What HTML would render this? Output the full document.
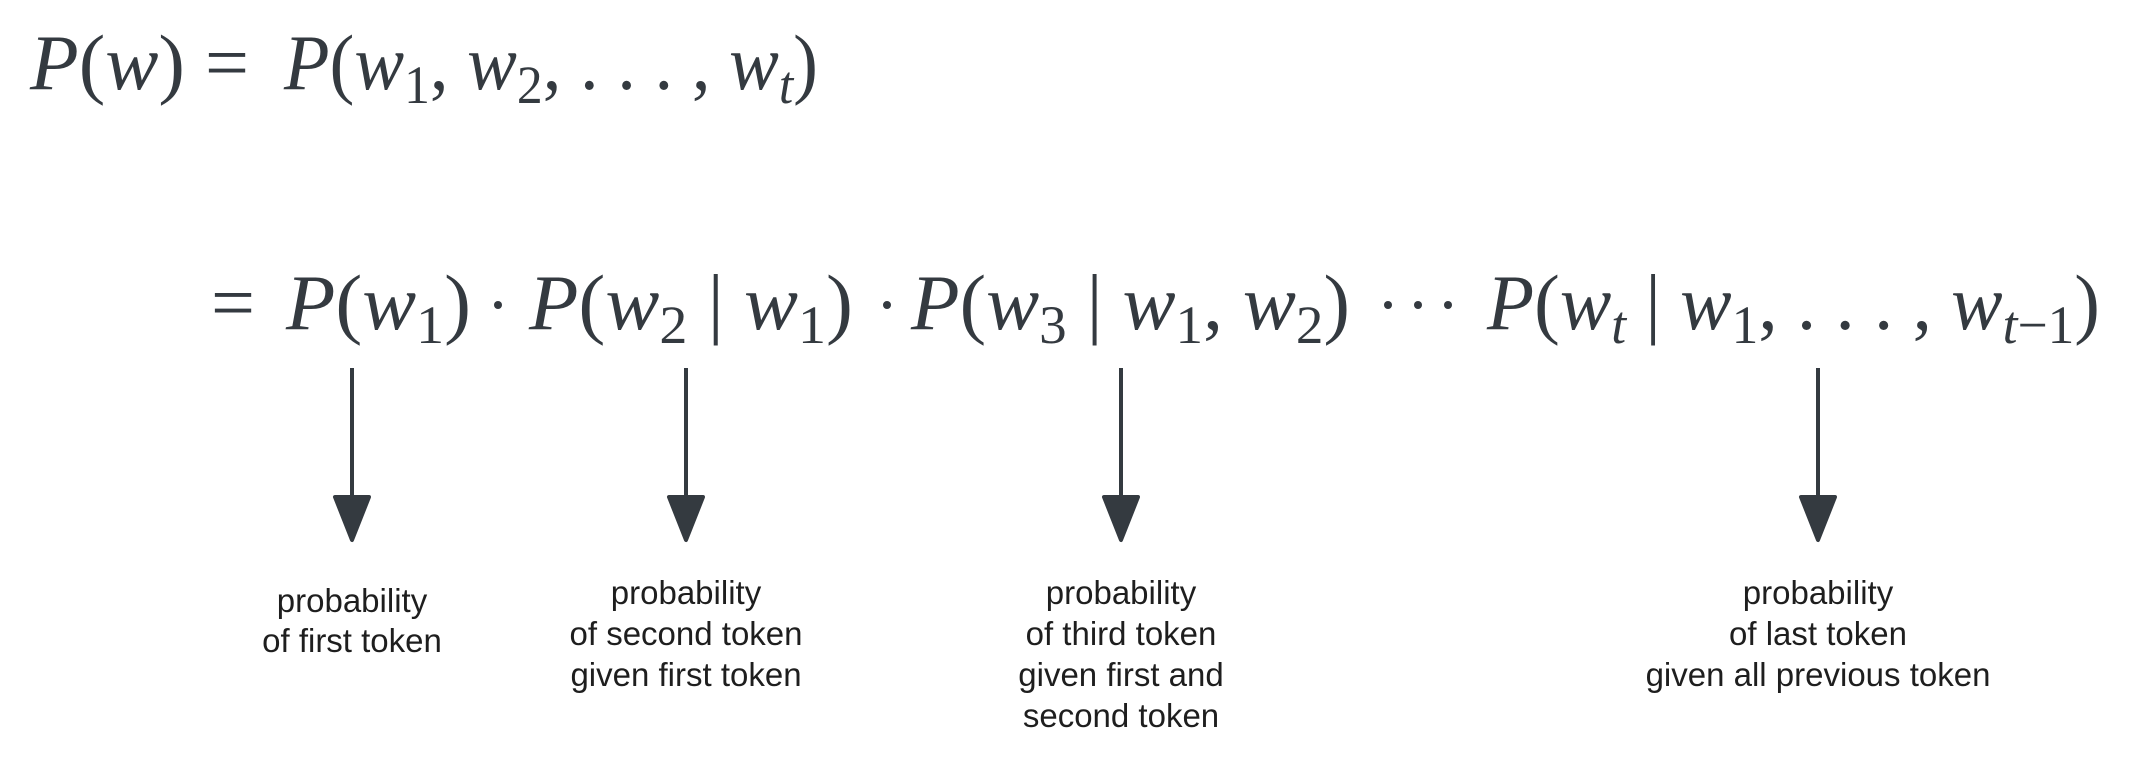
<!DOCTYPE html>
<html><head><meta charset="utf-8"><style>
html,body{margin:0;padding:0;background:#fff;}
svg{display:block}
.m{font-family:"Liberation Serif",serif;fill:#343a40;font-size:78px}
.i{font-style:italic}
.s{font-size:54px}
.h{font-family:"Liberation Sans",sans-serif;font-size:33px;fill:#1e1e1e;text-anchor:middle}
</style></head><body>
<svg width="2139" height="768" viewBox="0 0 2139 768" xmlns="http://www.w3.org/2000/svg">
<!-- line 1 -->
<text class="m" y="89" x="30" textLength="155" lengthAdjust="spacingAndGlyphs"><tspan class="i">P</tspan><tspan>(</tspan><tspan class="i">w</tspan><tspan>)</tspan></text>
<text class="m" y="89" x="205">=</text>
<text class="m" y="89" x="284" textLength="534" lengthAdjust="spacingAndGlyphs"><tspan class="i">P</tspan><tspan>(</tspan><tspan class="i">w</tspan><tspan class="s" dy="14">1</tspan><tspan dy="-14">, </tspan><tspan class="i">w</tspan><tspan class="s" dy="14">2</tspan><tspan dy="-14">, . . . , </tspan><tspan class="i">w</tspan><tspan class="s i" dy="14">t</tspan><tspan dy="-14">)</tspan></text>
<!-- line 2 -->
<text class="m" y="329" x="211">=</text>
<text class="m" y="329" x="286" textLength="185" lengthAdjust="spacingAndGlyphs"><tspan class="i">P</tspan><tspan>(</tspan><tspan class="i">w</tspan><tspan class="s" dy="14">1</tspan><tspan dy="-14">)</tspan></text>
<circle cx="498" cy="305" r="4" fill="#343a40"/>
<text class="m" y="329" x="529" textLength="324" lengthAdjust="spacingAndGlyphs"><tspan class="i">P</tspan><tspan>(</tspan><tspan class="i">w</tspan><tspan class="s" dy="14">2</tspan><tspan dy="-14"> | </tspan><tspan class="i">w</tspan><tspan class="s" dy="14">1</tspan><tspan dy="-14">)</tspan></text>
<circle cx="887" cy="305" r="4" fill="#343a40"/>
<text class="m" y="329" x="911" textLength="439" lengthAdjust="spacingAndGlyphs"><tspan class="i">P</tspan><tspan>(</tspan><tspan class="i">w</tspan><tspan class="s" dy="14">3</tspan><tspan dy="-14"> | </tspan><tspan class="i">w</tspan><tspan class="s" dy="14">1</tspan><tspan dy="-14">, </tspan><tspan class="i">w</tspan><tspan class="s" dy="14">2</tspan><tspan dy="-14">)</tspan></text>
<circle cx="1388" cy="305" r="4" fill="#343a40"/>
<circle cx="1418" cy="305" r="4" fill="#343a40"/>
<circle cx="1448" cy="305" r="4" fill="#343a40"/>
<text class="m" y="329" x="1487" textLength="613" lengthAdjust="spacingAndGlyphs"><tspan class="i">P</tspan><tspan>(</tspan><tspan class="i">w</tspan><tspan class="s i" dy="14">t</tspan><tspan dy="-14"> | </tspan><tspan class="i">w</tspan><tspan class="s" dy="14">1</tspan><tspan dy="-14">, . . . , </tspan><tspan class="i">w</tspan><tspan class="s" dy="14"><tspan class="i">t</tspan>−1</tspan><tspan dy="-14">)</tspan></text>
<!-- arrows -->
<g stroke="#343a40" stroke-width="4" fill="#343a40" stroke-linejoin="round">
<line x1="352" y1="368" x2="352" y2="500"/><polygon points="335,497 369,497 352,540"/>
<line x1="686" y1="368" x2="686" y2="500"/><polygon points="669,497 703,497 686,540"/>
<line x1="1121" y1="368" x2="1121" y2="500"/><polygon points="1104,497 1138,497 1121,540"/>
<line x1="1818" y1="368" x2="1818" y2="500"/><polygon points="1801,497 1835,497 1818,540"/>
</g>
<!-- labels -->
<text class="h" x="352" y="612">probability</text>
<text class="h" x="352" y="652">of first token</text>
<text class="h" x="686" y="604">probability</text>
<text class="h" x="686" y="645">of second token</text>
<text class="h" x="686" y="686">given first token</text>
<text class="h" x="1121" y="604">probability</text>
<text class="h" x="1121" y="645">of third token</text>
<text class="h" x="1121" y="686">given first and</text>
<text class="h" x="1121" y="727">second token</text>
<text class="h" x="1818" y="604">probability</text>
<text class="h" x="1818" y="645">of last token</text>
<text class="h" x="1818" y="686">given all previous token</text>
</svg>
</body></html>
